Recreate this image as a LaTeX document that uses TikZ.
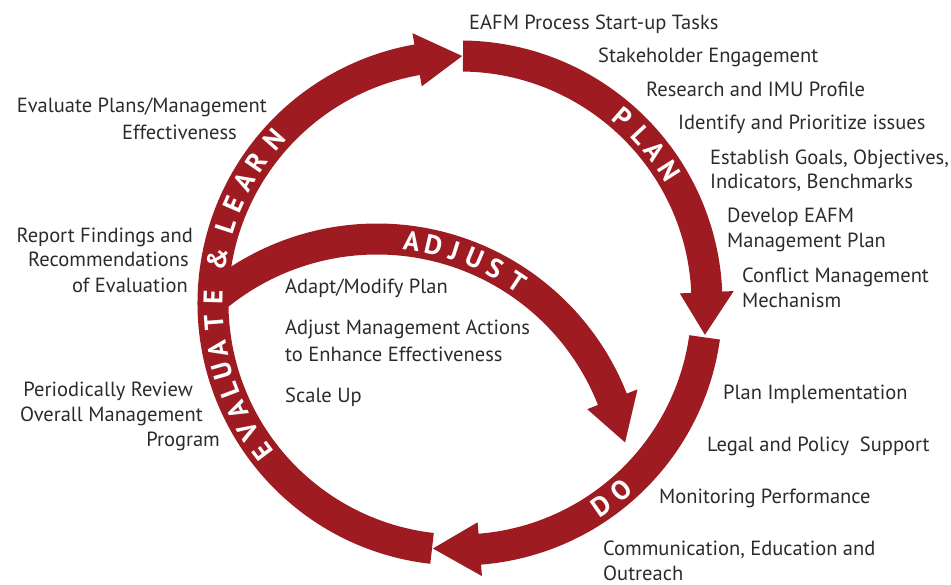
\documentclass[tikz,border=0pt]{standalone}
\usepackage{fontspec}
\setmainfont{PT Sans}
\usetikzlibrary{calc}
\definecolor{ringred}{HTML}{9E1B22}
\definecolor{txt}{HTML}{2B2B2B}
% #1 centre, #2 radius, #3 start angle, #4 head base angle, #5 tip angle
\newcommand{\ringarrow}[5]{%
  \fill[ringred] ($(#1)+({#3}:{#2+15.5})$) arc[start angle={#3}, end angle={#4}, radius={#2+15.5}]
    -- ($(#1)+({#4}:{#2+27})$) -- ($(#1)+({#5}:{#2})$) -- ($(#1)+({#4}:{#2-27})$)
    -- ($(#1)+({#4}:{#2-15.5})$) arc[start angle={#4}, end angle={#3}, radius={#2-15.5}] -- cycle;}
\begin{document}
\begin{tikzpicture}[x=1pt,y=1pt,
  lbl/.style={font=\fontsize{20.5}{24}\selectfont, text=txt, inner sep=0pt, anchor=base west},
  lblr/.style={lbl, anchor=base east},
  ringletter/.style={font=\fontsize{27}{27}\selectfont\bfseries, text=white, inner sep=0pt},
]
\useasboundingbox (0,0) rectangle (951,584);
\coordinate (O) at (460,281);
\coordinate (A) at (377,92);
% arrows
\ringarrow{A}{253}{129.5}{21.5}{11.3}
\ringarrow{O}{247}{89.3}{2.5}{-7.4}
\ringarrow{O}{247}{-8}{-85.4}{-96.3}
\ringarrow{O}{247}{263.5}{100}{89.5}
% ring letters
\foreach \ch/\ang [count=\i] in {P/48.7, L/42.8, A/37.9, N/32.3}
  \node[ringletter, rotate=\ang-90] (pl\i) at ($(O)+(\ang:247)$) {\ch};
\foreach \ch/\ang [count=\i] in {D/-55.2, O/-49.2}
  \node[ringletter, rotate=\ang+90] (do\i) at ($(O)+(\ang:247)$) {\ch};
\foreach \ch/\ang [count=\i] in {E/217.1, V/211.2, A/205.8, L/200.8, U/195.9, A/190.9, T/184.5, E/178.6, \&/169.8, L/161.8, E/156.5, A/150.7, R/145.4, N/138.7}
  \node[ringletter, rotate=\ang-90] (ev\i) at ($(O)+(\ang:247)$) {\ch};
\foreach \ch/\ang [count=\i] in {A/82.1, D/77.1, J/72.2, U/67.3, S/62.2, T/56.3}
  \node[ringletter, rotate=\ang-90] (ad\i) at ($(A)+(\ang:253)$) {\ch};
% right labels
\node[lbl] (p1) at (469,554) {EAFM Process Start-up Tasks};
\node[lbl] (p2) at (598,521) {Stakeholder Engagement};
\node[lbl] (p3) at (646,487) {Research and IMU Profile};
\node[lbl] (p4) at (678,454) {Identify and Prioritize issues};
\node[lbl] (p5a) at (710,419) {Establish Goals, Objectives,};
\node[lbl] (p5b) at (710,395) {Indicators, Benchmarks};
\node[lbl] (p6a) at (727,361) {Develop EAFM};
\node[lbl] (p6b) at (727,336) {Management Plan};
\node[lbl] (p7a) at (742,301) {Conflict Management};
\node[lbl] (p7b) at (742,276) {Mechanism};
\node[lbl] (d1) at (723,184) {Plan Implementation};
\node[lbl] (d2) at (707,132) {Legal and Policy\ \ Support};
\node[lbl] (d3) at (659,80) {Monitoring Performance};
\node[lbl] (d4a) at (603,28) {Communication, Education and};
\node[lbl] (d4b) at (603,4) {Outreach};
% left labels
\node[lblr] (e1a) at (267,471) {Evaluate Plans/Management};
\node[lblr] (e1b) at (237,444) {Effectiveness};
\node[lblr] (e2a) at (193,341) {Report Findings and};
\node[lblr] (e2b) at (189,317) {Recommendations};
\node[lblr] (e2c) at (188,291) {of Evaluation};
\node[lblr] (e3a) at (193,187) {Periodically Review};
\node[lblr] (e3b) at (203,162) {Overall Management};
\node[lblr] (e3c) at (220,137) {Program};
% inner labels
\node[lbl] (a1) at (285,290) {Adapt/Modify Plan};
\node[lbl] (a2a) at (285,249) {Adjust Management Actions};
\node[lbl] (a2b) at (285,222) {to Enhance Effectiveness};
\node[lbl] (a3) at (285,181) {Scale Up};
\end{tikzpicture}
\end{document}
